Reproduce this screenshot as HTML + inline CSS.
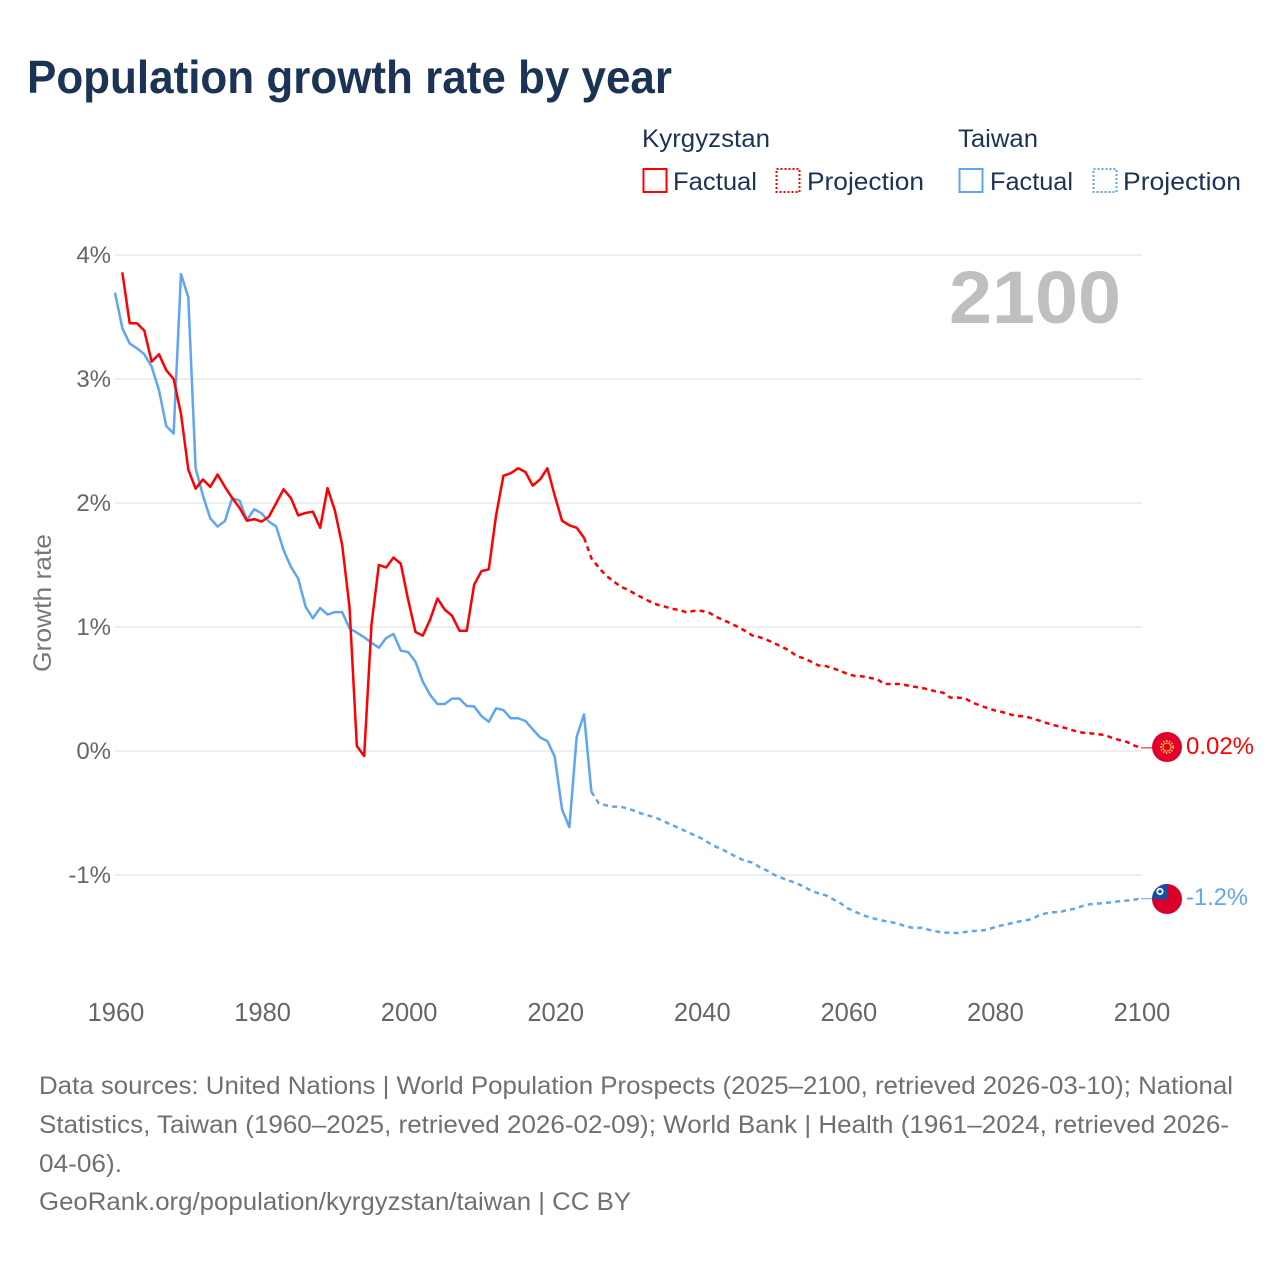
<!DOCTYPE html>
<html lang="en">
<head>
<meta charset="utf-8">
<title>Population growth rate by year</title>
<style>
html,body{margin:0;padding:0;background:#fff;width:1280px;height:1280px;overflow:hidden}
svg{display:block}
text{font-family:"Liberation Sans",sans-serif}
</style>
</head>
<body>
<svg id="chart" xmlns="http://www.w3.org/2000/svg" width="1280" height="1280" viewBox="0 0 1280 1280">
  <rect x="0" y="0" width="1280" height="1280" fill="#ffffff"/>
  <text x="27" y="93" font-size="46" font-weight="700" fill="#1b3354" textLength="645" lengthAdjust="spacingAndGlyphs">Population growth rate by year</text>

  <g font-size="25" fill="#1b3354">
    <text x="642" y="147" textLength="128" lengthAdjust="spacingAndGlyphs">Kyrgyzstan</text>
    <text x="958" y="147" textLength="80" lengthAdjust="spacingAndGlyphs">Taiwan</text>
    <rect x="643.5" y="169" width="23" height="23" fill="none" stroke="#ff0000" stroke-width="2"/>
    <text x="673" y="190" textLength="84" lengthAdjust="spacingAndGlyphs">Factual</text>
    <rect x="776.5" y="169" width="23" height="23" fill="none" stroke="#ff0000" stroke-width="2" stroke-dasharray="2 2"/>
    <text x="807" y="190" textLength="117" lengthAdjust="spacingAndGlyphs">Projection</text>
    <rect x="959.5" y="169" width="23" height="23" fill="none" stroke="#5fa5ef" stroke-width="2"/>
    <text x="990" y="190" textLength="83" lengthAdjust="spacingAndGlyphs">Factual</text>
    <rect x="1093.5" y="169" width="23" height="23" fill="none" stroke="#5fa5ef" stroke-width="2" stroke-dasharray="2 2"/>
    <text x="1123" y="190" textLength="118" lengthAdjust="spacingAndGlyphs">Projection</text>
  </g>

  <g id="grid"></g>
  <g id="y-ticks"></g>
  <g id="x-ticks"></g>

  <text transform="translate(51,672) rotate(-90)" font-size="25" fill="#777777" textLength="138" lengthAdjust="spacingAndGlyphs">Growth rate</text>
  <text x="949" y="323" font-size="74" font-weight="700" fill="#bfbfbf" textLength="172" lengthAdjust="spacingAndGlyphs">2100</text>

  <g id="series"></g>

  <g>
    <circle cx="1167" cy="747" r="15" fill="#e0002b"/>
    <circle cx="1167" cy="747" r="6" fill="none" stroke="#f5b335" stroke-width="2" stroke-dasharray="1.6 1.4"/>
    <circle cx="1167" cy="747" r="4" fill="none" stroke="#f5b335" stroke-width="1.1"/>
  </g>
  <text x="1186" y="754" font-size="24.5" fill="#ff0000" textLength="68" lengthAdjust="spacingAndGlyphs">0.02%</text>

  <g>
    <clipPath id="taiwan-clip"><circle cx="1167" cy="899" r="15"/></clipPath>
    <circle cx="1167" cy="899" r="15" fill="#d8002b"/>
    <rect x="1151" y="883" width="16" height="16" fill="#0f50a8" clip-path="url(#taiwan-clip)"/>
    <circle cx="1160" cy="891.5" r="3.6" fill="#ffffff"/>
    <circle cx="1160" cy="891.5" r="1.8" fill="#0f50a8"/>
  </g>
  <text x="1186" y="905" font-size="24.5" fill="#5fa5ef" textLength="62" lengthAdjust="spacingAndGlyphs">-1.2%</text>

  <g font-size="25" fill="#707070">
    <text x="39" y="1094" textLength="1194" lengthAdjust="spacingAndGlyphs">Data sources: United Nations | World Population Prospects (2025–2100, retrieved 2026-03-10); National</text>
    <text x="39" y="1133" textLength="1190" lengthAdjust="spacingAndGlyphs">Statistics, Taiwan (1960–2025, retrieved 2026-02-09); World Bank | Health (1961–2024, retrieved 2026-</text>
    <text x="39" y="1172" textLength="83" lengthAdjust="spacingAndGlyphs">04-06).</text>
    <text x="39" y="1210" textLength="592" lengthAdjust="spacingAndGlyphs">GeoRank.org/population/kyrgyzstan/taiwan | CC BY</text>
  </g>
</svg>
<script>
const xTicks = [1960, 1980, 2000, 2020, 2040, 2060, 2080, 2100];
const yTicks = [-1, 0, 1, 2, 3, 4];
const yTickLabels = ['-1%', '0%', '1%', '2%', '3%', '4%'];

const kyrgyzFactualStartYear = 1961;
const kyrgyzFactual = [3.86,3.45,3.45,3.39,3.14,3.20,3.07,3.00,2.72,2.27,2.115,2.19,2.13,2.23,2.13,2.04,1.96,1.857,1.87,1.85,1.89,2.00,2.11,2.04,1.90,1.92,1.93,1.80,2.12,1.94,1.66,1.16,0.04,-0.04,1.02,1.50,1.48,1.56,1.51,1.22,0.96,0.93,1.06,1.23,1.14,1.09,0.97,0.97,1.34,1.45,1.465,1.90,2.22,2.24,2.28,2.25,2.14,2.19,2.28,2.06,1.857,1.82,1.80,1.72];

const kyrgyzProjectionStartYear = 2024;
const kyrgyzProjection = [1.72,1.555,1.48,1.415,1.37,1.325,1.30,1.265,1.235,1.205,1.18,1.165,1.147,1.137,1.118,1.13,1.13,1.118,1.083,1.056,1.03,1.00,0.968,0.93,0.917,0.895,0.868,0.84,0.81,0.766,0.747,0.72,0.69,0.685,0.667,0.645,0.62,0.605,0.602,0.59,0.578,0.54,0.54,0.54,0.53,0.519,0.51,0.497,0.48,0.47,0.43,0.43,0.425,0.39,0.368,0.347,0.328,0.315,0.298,0.282,0.28,0.266,0.247,0.228,0.21,0.196,0.18,0.161,0.148,0.143,0.137,0.129,0.107,0.089,0.075,0.046,0.025];

const taiwanFactualStartYear = 1960;
const taiwanFactual = [3.696,3.41,3.287,3.247,3.20,3.10,2.91,2.62,2.56,3.847,3.66,2.28,2.06,1.876,1.81,1.855,2.04,2.02,1.863,1.95,1.917,1.85,1.81,1.62,1.486,1.39,1.165,1.07,1.153,1.10,1.12,1.12,0.99,0.954,0.917,0.873,0.833,0.911,0.944,0.809,0.798,0.72,0.559,0.452,0.379,0.379,0.422,0.422,0.363,0.36,0.282,0.236,0.344,0.33,0.264,0.264,0.242,0.175,0.11,0.08,-0.046,-0.47,-0.615,0.115,0.296,-0.328];

const taiwanProjectionStartYear = 2025;
const taiwanProjection = [-0.328,-0.422,-0.438,-0.449,-0.449,-0.465,-0.484,-0.508,-0.524,-0.543,-0.57,-0.597,-0.623,-0.65,-0.677,-0.704,-0.74,-0.772,-0.798,-0.83,-0.86,-0.887,-0.90,-0.938,-0.965,-1.00,-1.024,-1.046,-1.067,-1.094,-1.127,-1.148,-1.164,-1.196,-1.228,-1.269,-1.296,-1.323,-1.341,-1.358,-1.371,-1.381,-1.395,-1.417,-1.427,-1.425,-1.441,-1.454,-1.465,-1.465,-1.468,-1.46,-1.452,-1.449,-1.441,-1.422,-1.406,-1.393,-1.379,-1.368,-1.358,-1.328,-1.309,-1.30,-1.298,-1.282,-1.272,-1.25,-1.236,-1.231,-1.226,-1.22,-1.212,-1.207,-1.199,-1.191];

const NS = 'http://www.w3.org/2000/svg';
function xScale(year) { return 116 + (year - 1960) * (1142 - 116) / 140; }
function markX(year) { return xScale(year) - 1; }
function yScale(value) { return 751 - value * 124; }
function linePoints(startYear, values) {
  return values.map(function (v, i) {
    return markX(startYear + i).toFixed(2) + ',' + yScale(v).toFixed(2);
  }).join(' ');
}

const gridGroup = document.getElementById('grid');
const yTickGroup = document.getElementById('y-ticks');
const xTickGroup = document.getElementById('x-ticks');
const seriesGroup = document.getElementById('series');

yTicks.forEach(function (tick, i) {
  const line = document.createElementNS(NS, 'line');
  
  
  line.setAttribute('x1', xScale(1960) - 1);
  line.setAttribute('x2', xScale(2100));
  line.setAttribute('y1', yScale(tick));
  line.setAttribute('y2', yScale(tick));
  line.setAttribute('stroke', '#e9e9e9');
  line.setAttribute('stroke-width', '1.5');
  gridGroup.appendChild(line);

  const label = document.createElementNS(NS, 'text');
  
  
  label.setAttribute('x', 111);
  label.setAttribute('y', yScale(tick) + 8);
  label.setAttribute('text-anchor', 'end');
  label.setAttribute('font-size', '24');
  label.setAttribute('fill', '#666666');
  label.textContent = yTickLabels[i];
  yTickGroup.appendChild(label);
});

xTicks.forEach(function (tick) {
  const label = document.createElementNS(NS, 'text');
  
  
  label.setAttribute('x', xScale(tick));
  label.setAttribute('y', 1021);
  label.setAttribute('text-anchor', 'middle');
  label.setAttribute('font-size', '25.5');
  label.setAttribute('fill', '#666666');
  label.textContent = String(tick);
  xTickGroup.appendChild(label);
});

function drawSeries(name, startYear, values, color, dashed) {
  const poly = document.createElementNS(NS, 'polyline');
  
  
  poly.setAttribute('points', linePoints(startYear, values));
  poly.setAttribute('fill', 'none');
  poly.setAttribute('stroke', color);
  poly.setAttribute('stroke-width', '2.5');
  poly.setAttribute('stroke-linejoin', 'round');
  if (dashed) poly.setAttribute('stroke-dasharray', '5 4.2');
  seriesGroup.appendChild(poly);
}
drawSeries('kyrgyzstan-projection-line', kyrgyzProjectionStartYear, kyrgyzProjection, '#ff0000', true);
drawSeries('taiwan-projection-line', taiwanProjectionStartYear, taiwanProjection, '#5fa5ef', true);
drawSeries('taiwan-factual-line', taiwanFactualStartYear, taiwanFactual, '#5fa5ef', false);
drawSeries('kyrgyzstan-factual-line', kyrgyzFactualStartYear, kyrgyzFactual, '#ff0000', false);

function drawConnector(name, value, color) {
  const link = document.createElementNS(NS, 'line');
  
  
  link.setAttribute('x1', markX(2100));
  link.setAttribute('x2', 1152);
  link.setAttribute('y1', yScale(value));
  link.setAttribute('y2', yScale(value));
  link.setAttribute('stroke', color);
  link.setAttribute('stroke-width', '1');
  seriesGroup.appendChild(link);
}
drawConnector('kyrgyzstan-end-connector', kyrgyzProjection[kyrgyzProjection.length - 1], '#ff0000');
drawConnector('taiwan-end-connector', taiwanProjection[taiwanProjection.length - 1], '#5fa5ef');
</script>
</body>
</html>
